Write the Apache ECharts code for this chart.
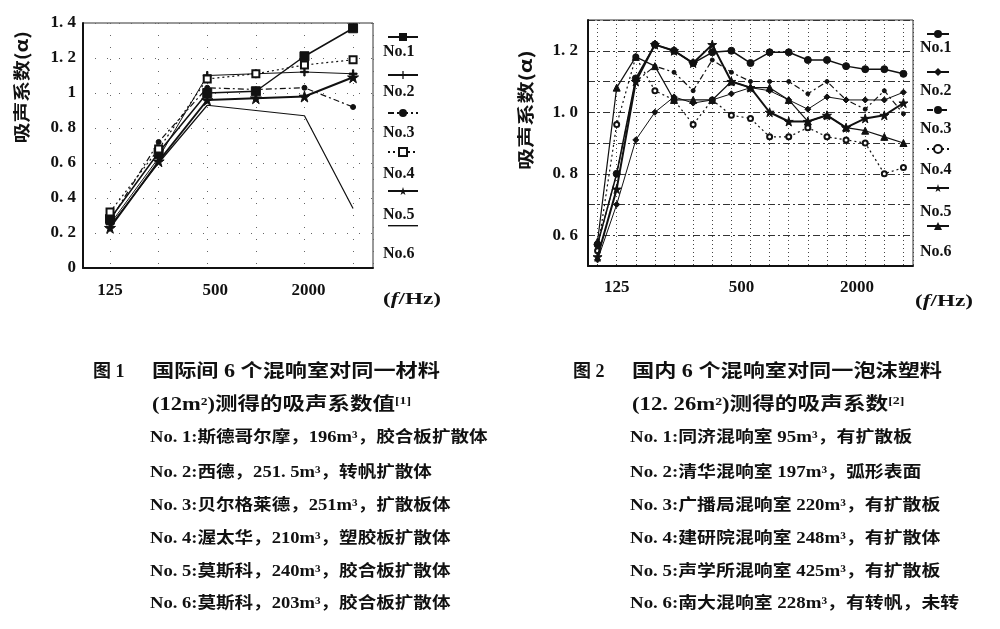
<!DOCTYPE html>
<html><head><meta charset="utf-8">
<script src="https://cdn.jsdelivr.net/npm/echarts@6/dist/echarts.min.js"></script>
<style>html,body{margin:0;padding:0;background:#fff}#c{width:1000px;height:629px}</style>
</head><body><div id="c"></div>
<script>
// ---------- Figure 1 data (octave bands) ----------
const freq1 = ['125','250','500','1000','2000','4000'];
const fig1No1 = [0.28, 0.66, 1.00, 1.01, 1.21, 1.37];
const fig1No2 = [0.25, 0.63, 1.10, 1.11, 1.12, 1.11];
const fig1No3 = [0.27, 0.72, 1.03, 1.02, 1.03, 0.92];
const fig1No4 = [0.32, 0.68, 1.08, 1.11, 1.16, 1.19];
const fig1No5 = [0.23, 0.61, 0.96, 0.97, 0.98, 1.09];
const fig1No6 = [0.24, 0.60, 0.93, 0.90, 0.87, 0.34];
const fig1XLabels = ['125','500','2000'];
const fig1YLabels = ['0','0. 2','0. 4','0. 6','0. 8','1','1. 2','1. 4'];

// ---------- Figure 2 data (1/3 octave bands) ----------
const freq2 = ['100','125','160','200','250','315','400','500','630','800','1000','1250','1600','2000','2500','3150','4000'];
const fig2No1 = [0.57, 0.80, 1.11, 1.22, 1.20, 1.16, 1.195, 1.20, 1.16, 1.195, 1.195, 1.17, 1.17, 1.15, 1.14, 1.14, 1.125];
const fig2No2 = [0.52, 0.70, 0.91, 1.00, 1.05, 1.03, 1.04, 1.06, 1.08, 1.07, 1.04, 1.01, 1.05, 1.04, 1.04, 1.04, 1.065];
const fig2No3 = [0.57, 0.80, 1.10, 1.15, 1.13, 1.07, 1.17, 1.13, 1.10, 1.10, 1.10, 1.06, 1.10, 1.04, 1.01, 1.07, 0.995];
const fig2No4 = [0.55, 0.96, 1.18, 1.07, 1.04, 0.96, 1.04, 0.99, 0.98, 0.92, 0.92, 0.95, 0.92, 0.91, 0.90, 0.80, 0.82];
const fig2No5 = [0.53, 0.75, 1.10, 1.22, 1.20, 1.16, 1.22, 1.10, 1.08, 1.00, 0.97, 0.97, 0.99, 0.95, 0.98, 0.99, 1.03];
const fig2No6 = [0.58, 1.08, 1.18, 1.15, 1.04, 1.04, 1.04, 1.10, 1.08, 1.08, 1.04, 0.97, 0.99, 0.95, 0.94, 0.92, 0.90];
const fig2XLabels = ['125','500','2000'];
const fig2YValues = [0.6, 0.8, 1.0, 1.2];
const fig2YLabels = ['0. 6','0. 8','1. 0','1. 2'];

const seriesNames = ['No.1','No.2','No.3','No.4','No.5','No.6'];

// ---------- captions ----------
const cap1Title = ['国际间 6 个混响室对同一材料', '(12m²)测得的吸声系数值'];
const cap1Ref = '[1]';
const cap1Lines = [
  'No. 1:斯德哥尔摩，196m³，胶合板扩散体',
  'No. 2:西德，251. 5m³，转帆扩散体',
  'No. 3:贝尔格莱德，251m³，扩散板体',
  'No. 4:渥太华，210m³，塑胶板扩散体',
  'No. 5:莫斯科，240m³，胶合板扩散体',
  'No. 6:莫斯科，203m³，胶合板扩散体'
];
const cap2Title = ['国内 6 个混响室对同一泡沫塑料', '(12. 26m²)测得的吸声系数'];
const cap2Ref = '[2]';
const cap2Lines = [
  'No. 1:同济混响室 95m³，有扩散板',
  'No. 2:清华混响室 197m³，弧形表面',
  'No. 3:广播局混响室 220m³，有扩散板',
  'No. 4:建研院混响室 248m³，有扩散体',
  'No. 5:声学所混响室 425m³，有扩散板',
  'No. 6:南大混响室 228m³，有转帆，未转'
];

const INK = '#111';
const SERIF = "'Liberation Serif','Noto Sans CJK SC',serif";
const CJK = "'Liberation Serif','Noto Sans CJK SC',sans-serif";
const STAR = 'path://M50,0L61,35L98,35L68,57L79,91L50,70L21,91L32,57L2,35L39,35Z';
const PLUS = 'path://M0,42H100V58H0ZM42,0H58V100H42Z';

function pts(arr){ return arr.map((v,i)=>[i,v]); }

const style1 = [
  {symbol:'rect', symbolSize:9, lw:1.5, type:'solid'},
  {symbol:PLUS, symbolSize:8, lw:1, type:'solid'},
  {symbol:'circle', symbolSize:5, lw:1.2, type:[6,3,2,3]},
  {symbol:'emptyRect', symbolSize:7, lw:1.2, type:[2,3]},
  {symbol:STAR, symbolSize:11, lw:2, type:'solid'},
  {symbol:'none', symbolSize:0, lw:1.2, type:'solid'}
];
const style2 = [
  {symbol:'circle', symbolSize:7, lw:1.5, type:'solid'},
  {symbol:'diamond', symbolSize:6, lw:1, type:'solid'},
  {symbol:'circle', symbolSize:4, lw:1.2, type:[6,3,2,3]},
  {symbol:'emptyCircle', symbolSize:5, lw:1.2, type:[2,3]},
  {symbol:STAR, symbolSize:9, lw:2, type:'solid'},
  {symbol:'triangle', symbolSize:7, lw:1.2, type:'solid'}
];
const fig1Data = [fig1No1, fig1No2, fig1No3, fig1No4, fig1No5, fig1No6];
const fig2Data = [fig2No1, fig2No2, fig2No3, fig2No4, fig2No5, fig2No6];

const series = [];
fig1Data.forEach((d,k)=>{
  const s = style1[k];
  series.push({type:'line', name:'图1 '+seriesNames[k], xAxisIndex:0, yAxisIndex:0,
    data:pts(d), symbol:s.symbol, symbolSize:s.symbolSize, showSymbol:s.symbol!=='none',
    lineStyle:{color:INK, width:s.lw, type:s.type}, itemStyle:{color:INK, borderColor:INK}, z:3+k});
});
fig2Data.forEach((d,k)=>{
  const s = style2[k];
  series.push({type:'line', name:'图2 '+seriesNames[k], xAxisIndex:1, yAxisIndex:1,
    data:pts(d), symbol:s.symbol, symbolSize:s.symbolSize,
    lineStyle:{color:INK, width:s.lw, type:s.type}, itemStyle:{color:INK, borderColor:INK}, z:3+k});
});

const labelFont = {fontFamily:SERIF, fontSize:17, fontWeight:'bold', color:INK};
function shiftRich(){
  return {
    a:{...labelFont, padding:[0,0,0,0]},
    b:{...labelFont, padding:[0,0,0,16]},
    c:{...labelFont, padding:[0,0,0,8]},
    d:{...labelFont, padding:[0,0,0,20]},
    e:{...labelFont, padding:[0,0,0,22]}
  };
}

function legendData(prefix, lastLineOnly){
  return seriesNames.map((n,k)=>{
    if (lastLineOnly && k===5) return {name:prefix+n, icon:'path://M0,0H300V14H0Z'};
    return {name:prefix+n};
  });
}

const graphics = [];
function txt(x, y, text, o){
  o = o || {};
  graphics.push({type:'text', x:x, y:y, scaleX:o.sx||1, rotation:o.rot||0, silent:true,
    style:{text:text, fill:INK, fontFamily:o.ff||CJK, fontSize:o.fs||16, fontWeight:o.fw||'bold',
      align:o.align||'left', verticalAlign:'middle', rich:o.rich}});
}
// legend labels
const leg1Y = [52, 92, 133, 174, 215, 254];
const leg2Y = [48, 91, 129, 170, 212, 252];
seriesNames.forEach((n,k)=>{
  txt(383, leg1Y[k], n, {ff:SERIF, fs:16});
  txt(920, leg2Y[k], n, {ff:SERIF, fs:16});
});
// axis names
txt(22, 87, '吸声系数(α)', {rot:Math.PI/2, align:'center', fs:17, sx:1.22, ff:"'Noto Sans CJK SC',sans-serif"});
txt(526, 110, '吸声系数(α)', {rot:Math.PI/2, align:'center', fs:17, sx:1.3, ff:"'Noto Sans CJK SC',sans-serif"});
const unitRich = {i:{fontFamily:SERIF, fontStyle:'italic', fontWeight:'bold', fontSize:16, fill:INK}};
txt(383, 300, '({i|f}/Hz)', {ff:SERIF, fs:16, sx:1.45, rich:unitRich});
txt(915, 302, '({i|f}/Hz)', {ff:SERIF, fs:16, sx:1.45, rich:unitRich});
// captions
const supRich = {s:{fontFamily:SERIF, fontSize:11, fontWeight:'bold', fill:INK, verticalAlign:'top'}};
txt(93, 372, '图 1', {fs:18});
txt(152, 372, cap1Title[0], {fs:18, sx:1.23});
txt(152, 405, cap1Title[1] + '{s|' + cap1Ref + '}', {fs:18, sx:1.25, rich:supRich});
txt(573, 372, '图 2', {fs:18});
txt(632, 372, cap2Title[0], {fs:18, sx:1.23});
txt(632, 405, cap2Title[1] + '{s|' + cap2Ref + '}', {fs:18, sx:1.26, rich:supRich});
const capY = [438, 473, 506, 539, 572, 604];
cap1Lines.forEach((t,k)=>txt(150, capY[k], t, {fs:16, sx:1.16}));
cap2Lines.forEach((t,k)=>txt(630, capY[k], t, {fs:16, sx:1.18}));

const option = {
  backgroundColor:'#fff',
  animation:false,
  grid:[
    {left:83, right:627, top:23, bottom:361, show:true, borderColor:'#333', borderWidth:1},
    {left:588, right:87, top:20, bottom:363, show:true, borderColor:'#333', borderWidth:1}
  ],
  xAxis:[
    {type:'value', gridIndex:0, min:-0.556, max:5.41, minInterval:1, maxInterval:1,
     axisLine:{show:true, onZero:false, lineStyle:{color:INK, width:2}}, axisTick:{show:false},
     splitLine:{show:true, lineStyle:{color:'#666', width:1, type:[1,11]}},
     axisLabel:{margin:14, ...labelFont, rich:shiftRich(), formatter:(v)=>{
        const i = Math.round(v); if (Math.abs(v-i)>1e-6) return '';
        const lab = freq1[i]; if (fig1XLabels.indexOf(lab)<0) return '';
        const key = lab==='500'?'b':(lab==='2000'?'c':'a');
        return '{'+key+'|'+lab+'}';
     }}},
    {type:'value', gridIndex:1, min:-0.5, max:16.5, minInterval:1, maxInterval:1,
     axisLine:{show:true, onZero:false, lineStyle:{color:INK, width:2}}, axisTick:{show:false},
     splitLine:{show:true, lineStyle:{color:'#444', width:1, type:[1,3]}},
     axisLabel:{margin:13, ...labelFont, rich:shiftRich(), formatter:(v)=>{
        const i = Math.round(v); if (Math.abs(v-i)>1e-6) return '';
        const lab = freq2[i]; if (fig2XLabels.indexOf(lab)<0) return '';
        const key = lab==='500'?'d':(lab==='2000'?'e':'a');
        return '{'+key+'|'+lab+'}';
     }}}
  ],
  yAxis:[
    {type:'value', gridIndex:0, min:0, max:1.4, interval:0.2,
     axisLine:{show:true, onZero:false, lineStyle:{color:INK, width:2}}, axisTick:{show:false},
     splitLine:{show:true, lineStyle:{color:'#666', width:1, type:[1,11]}},
     axisLabel:{margin:7, ...labelFont, formatter:(v)=>fig1YLabels[Math.round(v/0.2)]||''}},
    {type:'value', gridIndex:1, min:0.5, max:1.3, interval:0.1,
     axisLine:{show:true, onZero:false, lineStyle:{color:INK, width:2}}, axisTick:{show:false},
     splitLine:{show:true, lineStyle:{color:'#333', width:1, type:[7,3,2,3]}},
     axisLabel:{margin:10, ...labelFont, formatter:(v)=>{
        const k = fig2YValues.findIndex(t=>Math.abs(t-v)<1e-6);
        return k<0 ? '' : fig2YLabels[k];
     }}}
  ],
  legend:[
    {orient:'vertical', left:382, top:28, itemWidth:30, itemHeight:10, itemGap:30,
     selectedMode:false, formatter:()=>'', textStyle:{fontSize:1, lineHeight:1},
     data:legendData('图1 ', true)},
    {orient:'vertical', left:921, top:25, itemWidth:22, itemHeight:10, itemGap:30,
     selectedMode:false, formatter:()=>'', textStyle:{fontSize:1, lineHeight:1},
     data:legendData('图2 ', false)}
  ],
  graphic:graphics,
  series:series
};
const chart = echarts.init(document.getElementById('c'), null, {renderer:'canvas'});
chart.setOption(option);
</script>
</body></html>
